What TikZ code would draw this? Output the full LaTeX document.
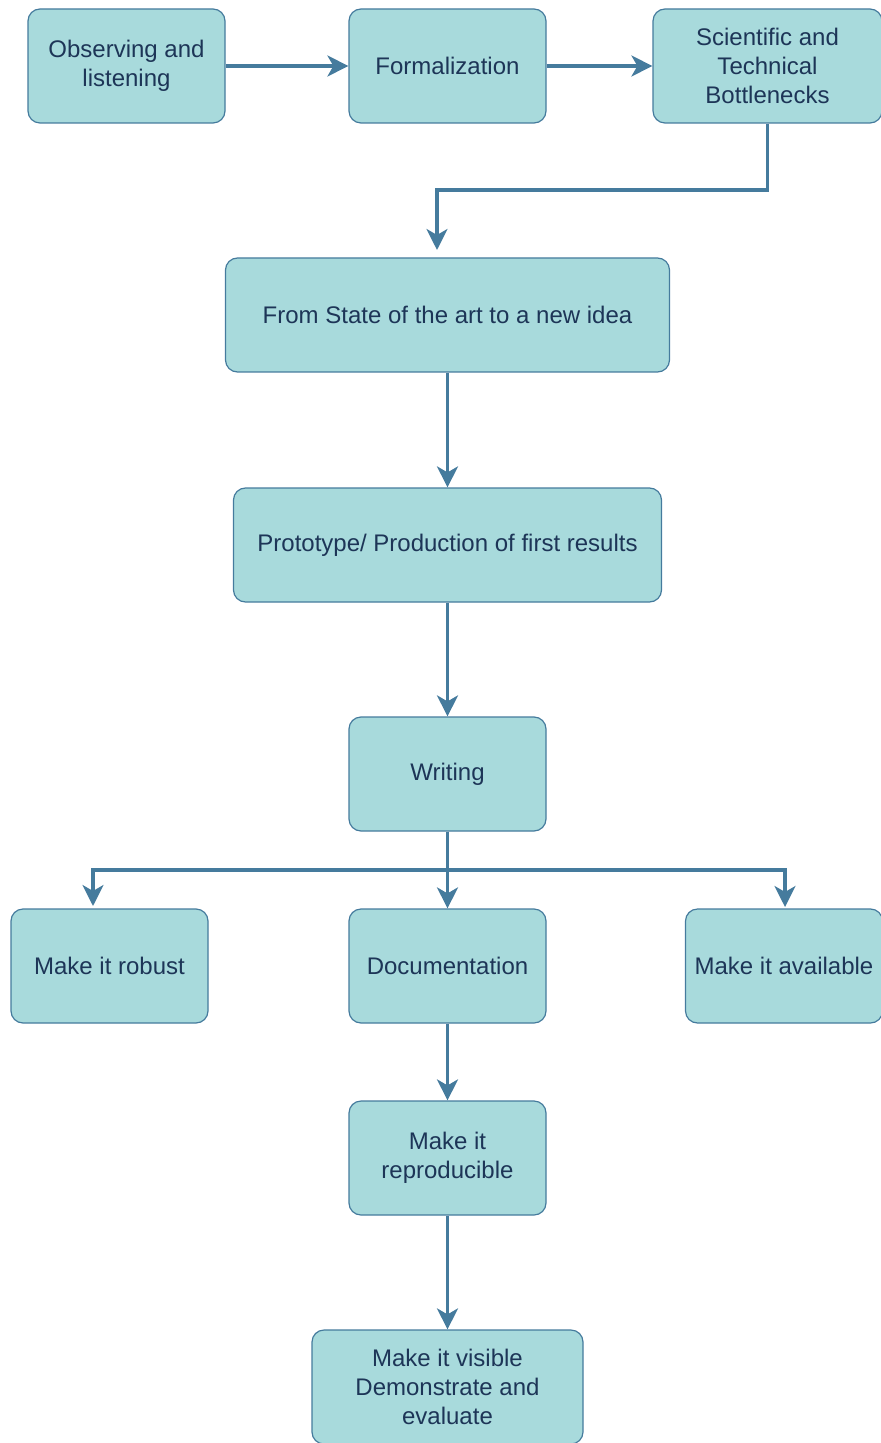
\documentclass[tikz,border=0pt]{standalone}
\usepackage{fontspec}
\setmainfont{Liberation Sans}
\usetikzlibrary{arrows.meta}
\definecolor{boxfill}{HTML}{A8DADC}
\definecolor{boxline}{HTML}{457B9D}
\definecolor{boxtext}{HTML}{1D3557}
\tikzset{
  block/.style={draw=boxline, fill=boxfill, text=boxtext, rounded corners=6pt, line width=0.6pt,
    minimum width=98.5pt, minimum height=57pt, align=center, inner sep=2pt,
    font=\fontsize{12}{14.5}\selectfont},
  flow/.style={draw=boxline, line width=1.6pt, -{Stealth[length=10.5pt, width=10.5pt, inset=3pt]}}
}
\begin{document}
\begin{tikzpicture}[x=0.5pt, y=-0.5pt]
\useasboundingbox (0,0) rectangle (881,1443);
\node[block] (observe) at (126.5,66) {Observing and\\listening};
\node[block] (formal) at (447.5,66) {Formalization};
\node[block, minimum width=114.5pt] (bottle) at (767.5,66) {Scientific and\\Technical\\Bottlenecks};
\node[block, minimum width=222pt] (state) at (447.5,315) {From State of the art to a new idea};
\node[block, minimum width=214pt] (proto) at (447.5,545) {Prototype/ Production of first results};
\node[block] (writing) at (447.5,774) {Writing};
\node[block] (robust) at (109.5,966) {Make it robust};
\node[block] (doc) at (447.5,966) {Documentation};
\node[block] (avail) at (784,966) {Make it available};
\node[block] (repro) at (447.5,1158) {Make it\\reproducible};
\node[block, minimum width=135.5pt] (visible) at (447.5,1387) {Make it visible\\Demonstrate and\\evaluate};
% free ends of the bent connectors
\coordinate (bend) at (437,190);
\coordinate (statein) at (437,250);
\coordinate (split) at (447.5,870);
\coordinate (robustin) at (93,906);
\coordinate (availin) at (785,907);
% connectors
\draw[flow] (observe) -- (formal);
\draw[flow] (formal) -- (bottle);
\draw[flow] (bottle.south) |- (bend) -- (statein);
\draw[flow] (state) -- (proto);
\draw[flow] (proto) -- (writing);
\draw[flow] (writing.south) -- (split) -| (robustin);
\draw[flow] (split) -| (availin);
\draw[flow] (writing) -- (doc);
\draw[flow] (doc) -- (repro);
\draw[flow] (repro) -- (visible);
\end{tikzpicture}
\end{document}
